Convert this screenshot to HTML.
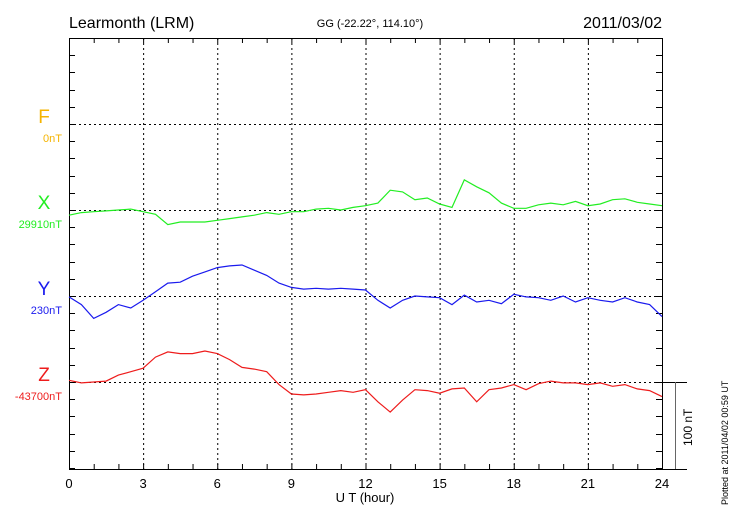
<!DOCTYPE html>
<html><head><meta charset="utf-8"><style>body{margin:0;background:#fff}svg{display:block;font-family:"Liberation Sans",sans-serif}</style></head>
<body>
<svg id="c" width="730" height="520" viewBox="0 0 730 520">
<text x="69" y="28" font-size="16">Learmonth (LRM)</text>
<text x="370" y="27" font-size="11" text-anchor="middle">GG (-22.22°, 114.10°)</text>
<text x="662" y="28" font-size="16" text-anchor="end">2011/03/02</text>
<text x="365" y="502" font-size="13" text-anchor="middle">U T (hour)</text>
<text transform="translate(728,505) rotate(-90)" font-size="9">Plotted at 2011/04/02 00:59 UT</text>
<g stroke="#000" stroke-width="1">
<line x1="662" y1="382.5" x2="687" y2="382.5"/><line x1="662" y1="469.5" x2="687" y2="469.5"/><line x1="675.5" y1="382" x2="675.5" y2="469" stroke="#666"/>
</g>
<text transform="translate(692,446) rotate(-90)" font-size="12">100 nT</text>
</svg>
<script>
const hours=[];for(let i=0;i<=48;i++)hours.push(i/2);
const xTickLabels=["0","3","6","9","12","15","18","21","24"];
const xValues=[-6,-3,-2,-1,0,1,-2,-5,-17,-14,-14,-14,-12,-10,-8,-6,-3,-5,-2,-2,1,2,0,3,5,8,23,21,12,14,7,3,35,27,20,8,2,2,6,8,6,10,5,7,12,13,9,7,5];
const yValues=[-1,-10,-26,-19,-10,-14,-5,5,15,16,23,28,33,35,36,30,24,15,10,8,9,8,9,8,7,-5,-14,-5,0,-1,-2,-10,1,-7,-5,-9,2,-1,-2,-5,0,-7,-2,-5,-7,-2,-7,-10,-24];
const zValues=[2,-1,0,1,8,12,16,29,35,33,33,36,33,26,17,15,12,-3,-14,-15,-14,-12,-10,-12,-9,-23,-35,-21,-9,-10,-13,-8,-7,-23,-9,-7,-3,-9,-2,1,-1,-1,-3,-1,-5,-3,-8,-10,-17];
const NS="http://www.w3.org/2000/svg",svg=document.getElementById('c');
const L=69,R=662,T=38,B=469,PPN=0.86;
const xs=h=>L+(R-L)*h/24;
function mk(t,a,p){const e=document.createElementNS(NS,t);for(const k in a)e.setAttribute(k,a[k]);(p||svg).appendChild(e);return e;}
const grid=mk('g',{stroke:'#000','stroke-width':1,'stroke-dasharray':'2,3'});


for(let h=3;h<24;h+=3)mk('line',{x1:xs(h)+.5,y1:T,x2:xs(h)+.5,y2:B},grid);
const bases=[124,210,296,382];
bases.forEach(b=>mk('line',{x1:L,y1:b+.5,x2:R,y2:b+.5},grid));
const ax=mk('g',{stroke:'#000','stroke-width':1,fill:'none'});


mk('rect',{x:L+.5,y:T+.5,width:R-L,height:B-T},ax);
for(let h=1;h<24;h++){const x=xs(h)+.5;mk('line',{x1:x,y1:T,x2:x,y2:T+5},ax);mk('line',{x1:x,y1:B,x2:x,y2:B-5},ax);}
for(let y=T;y<=B;y+=86*0.2){const yy=Math.round(y)+.5;mk('line',{x1:L,y1:yy,x2:L+6,y2:yy},ax);mk('line',{x1:R,y1:yy,x2:R-6,y2:yy},ax);}
xTickLabels.forEach((t,i)=>{const e=mk('text',{x:xs(i*3),y:488,'font-size':13,'text-anchor':'middle'});e.textContent=t;

});
const comps=[["F","0nT","#f5b400",124,null],["X","29910nT","#22ee22",210,xValues],["Y","230nT","#1a1aee",296,yValues],["Z","-43700nT","#ee1c1c",382,zValues]];
comps.forEach(c=>{
 const a=mk('text',{x:44,y:c[3]-1,'font-size':19,fill:c[2],'text-anchor':'middle'});a.textContent=c[0];
 
 
 const b=mk('text',{x:62,y:c[3]+18,'font-size':11,fill:c[2],'text-anchor':'end'});b.textContent=c[1];
 
 
 if(c[4]){const p=mk('polyline',{fill:'none',stroke:c[2],'stroke-width':1.2,points:c[4].map((v,i)=>xs(hours[i]).toFixed(1)+','+(c[3]-v*PPN).toFixed(1)).join(' ')});
 
 }
});
</script>
</body></html>
